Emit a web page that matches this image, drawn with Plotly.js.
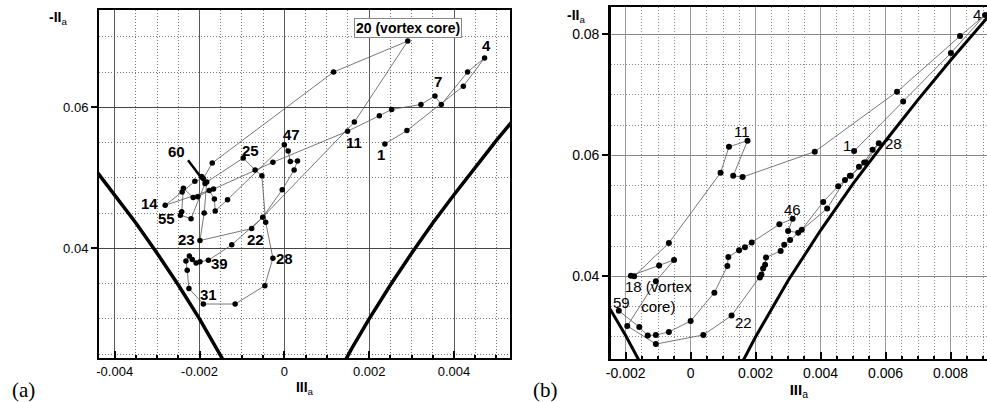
<!DOCTYPE html>
<html><head><meta charset="utf-8">
<script src="https://cdn.plot.ly/plotly-3.0.1.min.js"></script>
<style>html,body{margin:0;padding:0;background:#fff;}#chart{width:987px;height:402px;}</style>
</head><body><div id="chart"></div>
<script>
// ---------- Panel (a) data ----------
const aIII = [0.00237,0.00289,0.00422,0.00472,0.00432,0.00370,0.00355,0.00322,0.00253,0.00224,
  0.00149,-0.00027,-0.00167,-0.00281,-0.00241,-0.00211,-0.00191,-0.00170,0.00116,0.00291,
  0.00165,-0.00077,-0.00199,-0.00189,-0.00183,-0.00097,-0.00069,-0.00053,-0.00044,-0.00027,
  -0.00046,-0.00116,-0.00191,-0.00225,-0.00229,-0.00232,-0.00224,-0.00217,-0.00208,-0.00199,
  -0.00179,-0.00124,-0.00051,-0.00005,0.00023,0.00031,0.00014,0.00009,0.00000,-0.00134,
  -0.00163,-0.00165,-0.00177,-0.00204,-0.00215,-0.00238,-0.00242,-0.00245,-0.00220,-0.00187,
  -0.00195];
const aII = [0.0548,0.0567,0.0630,0.0670,0.0650,0.0604,0.0616,0.0604,0.0597,0.0588,
  0.0566,0.0522,0.0484,0.0461,0.0480,0.0495,0.0499,0.0521,0.0650,0.0694,
  0.0579,0.0428,0.0411,0.0450,0.0494,0.0528,0.0511,0.0503,0.0437,0.0386,
  0.0347,0.0321,0.0321,0.0343,0.0369,0.0382,0.0389,0.0384,0.0379,0.0381,
  0.0383,0.0405,0.0444,0.0483,0.0511,0.0524,0.0523,0.0538,0.0547,0.0469,
  0.0453,0.0470,0.0482,0.0473,0.0472,0.0485,0.0452,0.0447,0.0442,0.0492,
  0.0502];
const aLeftBoundIII = [-0.0044,-0.0040,-0.0035,-0.0030,-0.0025,-0.0020,-0.0016,-0.0014];
const aLeftBoundII  = [0.0507,0.0476,0.0436,0.0393,0.0348,0.0300,0.0259,0.0237];
const aRightBoundIII = [0.0014,0.0016,0.0020,0.0025,0.0030,0.0035,0.0040,0.0045,0.0050,0.0054];
const aRightBoundII  = [0.0237,0.0259,0.0300,0.0348,0.0393,0.0436,0.0476,0.0515,0.0553,0.0582];
const aTickVals = [-0.004,-0.002,0,0.002,0.004];
const aTickText = ['-0.004','-0.002','0','0.002','0.004'];
const aYTickVals = [0.04,0.06];
const aYTickText = ['0.04','0.06'];
const aLabels = ['1','4','7','11','20 (vortex core)','47','25','60','14','55','23','22','39','28','31'];

// ---------- Panel (b) data ----------
const bIII = [0.00503,0.00654,0.00801,0.00906,0.00829,0.00635,0.00382,0.00160,0.00131,0.00175,
  0.00118,0.00092,-0.00067,-0.00174,-0.00184,-0.00097,-0.00051,-0.00107,-0.00195,-0.00107,
  0.00039,0.00126,0.00213,0.00218,0.00223,0.00229,0.00232,0.00277,0.00288,0.00306,
  0.00420,0.00475,0.00493,0.00518,0.00534,0.00560,0.00579,0.00539,0.00490,0.00454,
  0.00408,0.00342,0.00331,0.00300,0.00314,0.00273,0.00188,0.00167,0.00149,0.00116,
  0.00113,0.00073,0.00000,-0.00067,-0.00107,-0.00132,-0.00158,-0.00221];
const bII = [0.0607,0.0689,0.0769,0.0832,0.0797,0.0705,0.0606,0.0564,0.0566,0.0624,
  0.0614,0.0571,0.0455,0.0400,0.0401,0.0418,0.0427,0.0392,0.0318,0.0288,
  0.0303,0.0335,0.0398,0.0403,0.0413,0.0419,0.0431,0.0442,0.0452,0.0460,
  0.0512,0.0559,0.0566,0.0581,0.0588,0.0609,0.0620,0.0588,0.0566,0.0549,
  0.0523,0.0477,0.0472,0.0475,0.0495,0.0486,0.0456,0.0448,0.0443,0.0432,
  0.0417,0.0373,0.0326,0.0308,0.0303,0.0302,0.0316,0.0343];
const bLeftBoundIII = [-0.0026,-0.0025,-0.0020,-0.0016,-0.0015];
const bLeftBoundII  = [0.0357,0.0348,0.0302,0.0262,0.0250];
const bRightBoundIII = [0.0015,0.0016,0.0020,0.0030,0.0040,0.0050,0.0060,0.0070,0.0080,0.0092];
const bRightBoundII  = [0.0250,0.0259,0.0300,0.0393,0.0476,0.0553,0.0624,0.0692,0.0757,0.0832];
const bTickVals = [-0.002,0,0.002,0.004,0.006,0.008];
const bTickText = ['-0.002','0','0.002','0.004','0.006','0.008'];
const bYTickVals = [0.04,0.06,0.08];
const bYTickText = ['0.04','0.06','0.08'];
const bLabels = ['4','1','28','11','46','18 (vortex<br>core)','59','22'];

// ---------- traces ----------
const pathLine = {color:'#555', width:0.8};
const dot = {color:'#000', size:5.5};
const bound = {color:'#000', width:3.5};
const traces = [
  {x:aLeftBoundIII, y:aLeftBoundII, mode:'lines', line:bound, xaxis:'x', yaxis:'y', hoverinfo:'skip'},
  {x:aRightBoundIII, y:aRightBoundII, mode:'lines', line:bound, xaxis:'x', yaxis:'y', hoverinfo:'skip'},
  {x:aIII, y:aII, mode:'lines+markers', line:pathLine, marker:dot, xaxis:'x', yaxis:'y'},
  {x:bLeftBoundIII, y:bLeftBoundII, mode:'lines', line:{color:'#000',width:3}, xaxis:'x2', yaxis:'y2', hoverinfo:'skip'},
  {x:bRightBoundIII, y:bRightBoundII, mode:'lines', line:{color:'#000',width:3}, xaxis:'x2', yaxis:'y2', hoverinfo:'skip'},
  {x:bIII, y:bII, mode:'lines+markers', line:pathLine, marker:{color:'#000', size:6}, xaxis:'x2', yaxis:'y2'}
];

// ---------- label positions ----------
const aLabelPos = [[0.00227,0.0533],[0.00477,0.0687],[0.00362,0.0637],[0.00164,0.0550],[0.00292,0.0712],
  [0.00017,0.0561],[-0.00079,0.0539],[-0.00254,0.0537],[-0.00317,0.0464],[-0.00279,0.0442],
  [-0.00230,0.0413],[-0.00067,0.0413],[-0.00152,0.0379],[0.00000,0.0386],[-0.00179,0.0335]];
const bLabelPos = [[0.00880,0.0832],[0.00482,0.0616],[0.00623,0.0620],[0.00157,0.0639],[0.00314,0.0510],
  [-0.00100,0.0367],[-0.00214,0.0357],[0.00162,0.0323]];

const FONT = 'Liberation Sans, Arial, sans-serif';
const ann = [];
aLabels.forEach((t,i)=>{
  const o = {x:aLabelPos[i][0], y:aLabelPos[i][1], xref:'x', yref:'y', text:'<b>'+t+'</b>', showarrow:false,
    font:{family:FONT, size:15, color:'#000'}, xanchor:'center', yanchor:'middle'};
  if (t.indexOf('vortex')>=0){ o.bordercolor='#888'; o.borderwidth=1; o.bgcolor='#fff'; o.borderpad=1; o.font.size=14; }
  ann.push(o);
});
bLabels.forEach((t,i)=>{
  ann.push({x:bLabelPos[i][0], y:bLabelPos[i][1], xref:'x2', yref:'y2', text:t, showarrow:false,
    font:{family:FONT, size:15, color:'#000'}, xanchor:'center', yanchor:'middle'});
});
ann.push({x:58/987, y:1-18/402, xref:'paper', yref:'paper', text:'<b>-II</b><sub>a</sub>', showarrow:false,
  font:{family:FONT,size:14,color:'#000'}, xanchor:'center', yanchor:'middle'});
ann.push({x:576/987, y:1-16/402, xref:'paper', yref:'paper', text:'<b>-II</b><sub>a</sub>', showarrow:false,
  font:{family:FONT,size:14,color:'#000'}, xanchor:'center', yanchor:'middle'});
ann.push({x:23/987, y:1-390/402, xref:'paper', yref:'paper', text:'(a)', showarrow:false,
  font:{family:'Liberation Serif, Times New Roman, serif',size:21,color:'#000'}, xanchor:'center', yanchor:'middle'});
ann.push({x:545/987, y:1-390/402, xref:'paper', yref:'paper', text:'(b)', showarrow:false,
  font:{family:'Liberation Serif, Times New Roman, serif',size:21,color:'#000'}, xanchor:'center', yanchor:'middle'});

const DOT = '1px,2px';
const minorA = {dtick:0.0005, tick0:0, showgrid:true, griddash:DOT, gridcolor:'#777', gridwidth:1, ticks:'inside', ticklen:3, tickcolor:'#000'};
const minorAy = {dtick:0.005, tick0:0, showgrid:true, griddash:DOT, gridcolor:'#777', gridwidth:1, ticks:'', ticklen:0};

const layout = {
  width:987, height:402, margin:{l:0,r:0,t:0,b:0}, showlegend:false,
  paper_bgcolor:'#fff', plot_bgcolor:'#fff', font:{family:FONT, color:'#000'},
  xaxis:{domain:[99/987,510/987], range:[-0.00437,0.00532], anchor:'y',
    tickmode:'array', tickvals:aTickVals, ticktext:aTickText, ticks:'inside', ticklen:7, tickwidth:2, tickcolor:'#000',
    showline:true, linecolor:'#000', linewidth:2, mirror:true, zeroline:false,
    showgrid:true, gridcolor:'#5a5a5a', gridwidth:1, minor:minorA, tickfont:{size:13},
    title:{text:'<b>III</b><sub>a</sub>', font:{size:14}, standoff:5}},
  yaxis:{domain:[1-358/402,1-10/402], range:[0.02444,0.0738], anchor:'x',
    tickmode:'array', tickvals:aYTickVals, ticktext:aYTickText, ticks:'outside', ticklen:6, tickwidth:2, tickcolor:'#000',
    showline:true, linecolor:'#000', linewidth:2, mirror:true, zeroline:false,
    showgrid:true, gridcolor:'#444', gridwidth:1, minor:minorAy, tickfont:{size:13}},
  xaxis2:{domain:[610.7/987,1], range:[-0.00246,0.00912], anchor:'y2',
    tickmode:'array', tickvals:bTickVals, ticktext:bTickText, ticks:'inside', ticklen:7, tickwidth:2, tickcolor:'#000',
    showline:true, linecolor:'#000', linewidth:2, mirror:true, zeroline:false,
    showgrid:true, gridcolor:'#9a9a9a', gridwidth:1.5,
    minor:{dtick:0.0005, tick0:0, showgrid:true, griddash:DOT, gridcolor:'#888', gridwidth:1, ticks:'inside', ticklen:3, tickcolor:'#000'},
    tickfont:{size:14}, title:{text:'<b>III</b><sub>a</sub>', font:{size:15}, standoff:4}},
  yaxis2:{domain:[1-359/402,1-7.3/402], range:[0.02633,0.08446], anchor:'x2',
    tickmode:'array', tickvals:bYTickVals, ticktext:bYTickText, ticks:'outside', ticklen:6, tickwidth:2, tickcolor:'#000',
    showline:true, linecolor:'#000', linewidth:2.5, mirror:false, zeroline:false,
    showgrid:true, gridcolor:'#888', gridwidth:1.2,
    minor:{dtick:0.005, tick0:0, showgrid:true, griddash:DOT, gridcolor:'#888', gridwidth:1, ticks:''},
    tickfont:{size:14}},
  annotations: ann,
  shapes:[{type:'line', xref:'x', yref:'y', x0:-0.00227, y0:0.0525, x1:-0.00187, y1:0.0493, line:{color:'#000', width:2.5}}]
};
Plotly.newPlot('chart', traces, layout, {staticPlot:true, displayModeBar:false});
</script></body></html>
